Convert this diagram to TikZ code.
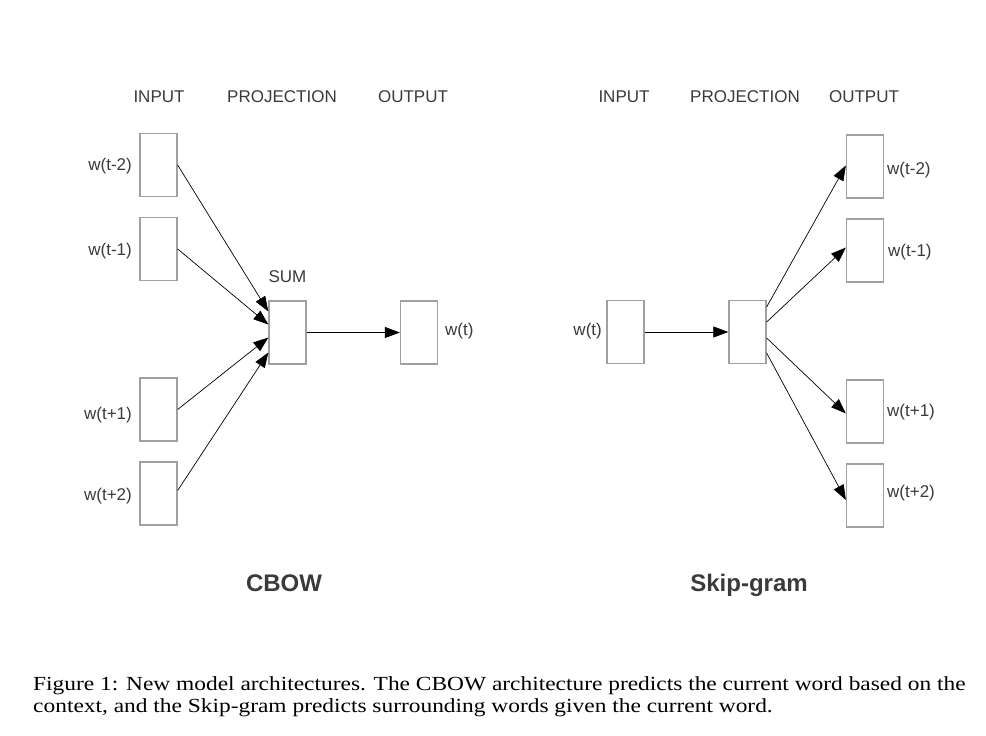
\documentclass[tikz,border=0pt]{standalone}
\usepackage{fontspec}
\setmainfont{Liberation Serif}
\setsansfont{Liberation Sans}
\usetikzlibrary{arrows.meta}
\definecolor{boxgray}{HTML}{A0A0A0}
\definecolor{txtgray}{HTML}{3A3A3A}
\begin{document}
\begin{tikzpicture}[x=1pt,y=-1pt,
  wbox/.style={draw=boxgray, line width=1.3pt, minimum width=37pt, minimum height=63pt, inner sep=0pt},
  lbl/.style={font=\sffamily\fontsize{17}{20}\selectfont, text=txtgray, inner sep=0pt},
  ttl/.style={font=\sffamily\bfseries\fontsize{24}{28}\selectfont, text=txtgray, inner sep=0pt, anchor=base},
  arr/.style={-{Triangle[length=15pt,width=11pt]}, line width=0.7pt, black}]
\useasboundingbox (0,0) rectangle (986,736);
% ---------- CBOW ----------
\node[lbl] (hin1) at (159,97) {INPUT};
\node[lbl] (hpr1) at (282,97) {PROJECTION};
\node[lbl] (hout1) at (413,97) {OUTPUT};
\node[wbox] (a1) at (158.5,165) {};
\node[wbox] (a2) at (158.5,249) {};
\node[wbox] (a3) at (158.5,409.5) {};
\node[wbox] (a4) at (158.5,493.5) {};
\node[wbox] (sum) at (287.5,332.5) {};
\node[wbox] (out) at (419,332.5) {};
\node[lbl, anchor=east] (la1) at (132,166) {w(t-2)};
\node[lbl, anchor=east] (la2) at (132,251) {w(t-1)};
\node[lbl, anchor=east] (la3) at (132,415) {w(t+1)};
\node[lbl, anchor=east] (la4) at (132,496) {w(t+2)};
\node[lbl] (lsum) at (287.5,277) {SUM};
\node[lbl, anchor=west] (lout) at (445,331) {w(t)};
\draw[arr] (a1.east) -- ([yshift=21pt]sum.west);
\draw[arr] (a2.east) -- ([yshift=8pt]sum.west);
\draw[arr] (a3.east) -- ([yshift=-5pt]sum.west);
\draw[arr] ([yshift=3pt]a4.east) -- ([yshift=-20pt]sum.west);
\draw[arr] (sum.east) -- (out.west);
\node[ttl] (cbow) at (284,591) {CBOW};
% ---------- Skip-gram ----------
\node[lbl] (hin2) at (624,97) {INPUT};
\node[lbl] (hpr2) at (745,97) {PROJECTION};
\node[lbl] (hout2) at (864,97) {OUTPUT};
\node[wbox] (rin) at (625.5,332) {};
\node[wbox] (proj) at (747.5,332) {};
\node[wbox] (b1) at (865,166.5) {};
\node[wbox] (b2) at (865,250.5) {};
\node[wbox] (b3) at (865,411.5) {};
\node[wbox] (b4) at (865,495.5) {};
\node[lbl, anchor=east] (lrin) at (602,331) {w(t)};
\node[lbl, anchor=west] (lb1) at (887,170) {w(t-2)};
\node[lbl, anchor=west] (lb2) at (888,252) {w(t-1)};
\node[lbl, anchor=west] (lb3) at (887,412) {w(t+1)};
\node[lbl, anchor=west] (lb4) at (887,493) {w(t+2)};
\draw[arr] (rin.east) -- (proj.west);
\draw[arr] ([yshift=25pt]proj.east) -- ([yshift=1pt]b1.west);
\draw[arr] ([yshift=10pt]proj.east) -- ([yshift=3pt]b2.west);
\draw[arr] ([yshift=-6pt]proj.east) -- ([yshift=-2pt]b3.west);
\draw[arr] ([yshift=-21pt]proj.east) -- ([yshift=-4.5pt]b4.west);
\node[ttl] (skip) at (749,591) {Skip-gram};
% ---------- caption ----------
\node[anchor=north west, inner sep=0pt, align=left, xscale=1.17, transform shape, font=\fontsize{20}{22.5}\selectfont] (cap) at (33,676)
 {Figure 1: New model architectures. The CBOW architecture predicts the current word based on the\\
  context, and the Skip-gram predicts surrounding words given the current word.};
\end{tikzpicture}
\end{document}
